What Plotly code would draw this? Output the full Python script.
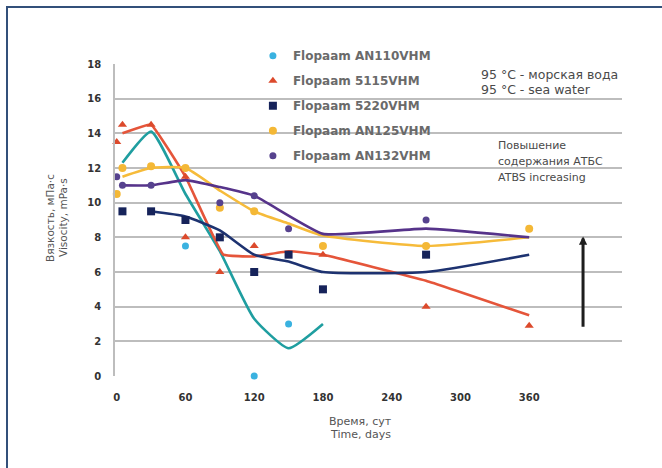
import plotly.graph_objects as go

# ---- data ----
names = ["Flopaam AN110VHM", "Flopaam 5115VHM", "Flopaam 5220VHM",
         "Flopaam AN125VHM", "Flopaam AN132VHM"]

an110_pts_x = [60, 120, 150]
an110_pts_y = [7.5, 0.0, 3.0]
an110_line_x = [5, 30, 60, 90, 120, 150, 180]
an110_line_y = [12.3, 14.1, 10.5, 7.2, 3.3, 1.6, 3.0]

s5115_pts_x = [0, 5, 30, 60, 60, 90, 120, 180, 270, 360]
s5115_pts_y = [13.5, 14.5, 14.5, 11.5, 8.0, 6.0, 7.5, 7.0, 4.0, 2.9]
s5115_line_x = [5, 30, 60, 93, 120, 150, 180, 270, 360]
s5115_line_y = [14.0, 14.5, 11.5, 7.0, 6.9, 7.2, 7.0, 5.5, 3.5]

s5220_pts_x = [5, 30, 60, 90, 120, 150, 180, 270]
s5220_pts_y = [9.5, 9.5, 9.0, 8.0, 6.0, 7.0, 5.0, 7.0]
s5220_line_x = [30, 60, 90, 120, 150, 180, 270, 360]
s5220_line_y = [9.5, 9.2, 8.4, 7.0, 6.6, 6.0, 6.0, 7.0]

an125_pts_x = [0, 5, 30, 60, 90, 120, 180, 270, 360]
an125_pts_y = [10.5, 12.0, 12.1, 12.0, 9.7, 9.5, 7.5, 7.5, 8.5]
an125_line_x = [5, 30, 60, 90, 120, 150, 180, 270, 360]
an125_line_y = [11.5, 12.0, 12.0, 10.7, 9.5, 8.8, 8.1, 7.5, 8.0]

an132_pts_x = [0, 5, 30, 90, 120, 150, 270]
an132_pts_y = [11.5, 11.0, 11.0, 10.0, 10.4, 8.5, 9.0]
an132_line_x = [5, 30, 60, 90, 120, 180, 270, 360]
an132_line_y = [11.0, 11.0, 11.3, 10.9, 10.4, 8.2, 8.5, 8.0]

x_ticks = [0, 60, 120, 180, 240, 300, 360]
y_ticks = [0, 2, 4, 6, 8, 10, 12, 14, 16, 18]

arrow_x = 407
arrow_from = 2.75
arrow_to = 8.05

# ---- styles ----
series = [
    (an110_pts_x, an110_pts_y, an110_line_x, an110_line_y, "#3ab2e0", "#1f9ea0", "circle", 7, 0.5),
    (s5115_pts_x, s5115_pts_y, s5115_line_x, s5115_line_y, "#dc4a2c", "#e5553a", "triangle-up", 8, 0.25),
    (s5220_pts_x, s5220_pts_y, s5220_line_x, s5220_line_y, "#16235a", "#1d3270", "square", 8, 0.5),
    (an125_pts_x, an125_pts_y, an125_line_x, an125_line_y, "#f4b836", "#f6bb3a", "circle", 8, 0.5),
    (an132_pts_x, an132_pts_y, an132_line_x, an132_line_y, "#56428e", "#56338a", "circle", 7, 0.4),
]

fig = go.Figure()
for i, (px, py, lx, ly, mc, lc, sym, ms, sm) in enumerate(series):
    fig.add_trace(go.Scatter(x=lx, y=ly, mode="lines",
                             line=dict(color=lc, width=2.6, shape="spline", smoothing=sm),
                             showlegend=False, hoverinfo="skip", cliponaxis=False))
for i, (px, py, lx, ly, mc, lc, sym, ms, sm) in enumerate(series):
    fig.add_trace(go.Scatter(x=px, y=py, mode="markers", name=names[i],
                             legendgroup=names[i],
                             marker=dict(color=mc, symbol=sym, size=ms),
                             cliponaxis=False))

txt = "#4a4a4a"
fig.update_layout(
    width=662, height=468,
    margin=dict(l=115, r=40, t=64, b=92),
    paper_bgcolor="white", plot_bgcolor="white",
    font=dict(family="DejaVu Sans", size=10, color=txt),
    showlegend=True,
    legend=dict(x=0.272, y=1.073, xanchor="left", yanchor="top",
                bgcolor="rgba(0,0,0,0)", tracegroupgap=6,
                font=dict(family="DejaVu Sans", size=12, color="#6a6a6a", weight="bold")),
    xaxis=dict(range=[-1.5, 441], tickvals=x_ticks, showgrid=False,
               zeroline=False, showline=False, ticks="",
               tickfont=dict(family="DejaVu Sans", size=10, color="#333333", weight="bold"),
               ticklabelstandoff=14),
    yaxis=dict(range=[0, 18], tickvals=y_ticks, showgrid=True,
               gridcolor="#bdbdbd", gridwidth=1.5, zeroline=False,
               showline=True, linecolor="#bdbdbd", linewidth=1.5, ticks="",
               tickfont=dict(family="DejaVu Sans", size=10, color="#333333", weight="bold"),
               ticklabelstandoff=10),
)

# frame
fig.add_shape(type="rect", xref="paper", yref="paper",
              x0=(7 - 115) / 507, x1=(720 - 115) / 507,
              y0=(376 - 520) / 312, y1=(376 - 7) / 312,
              line=dict(color="#33507a", width=2), fillcolor="rgba(0,0,0,0)", layer="below")

# arrow
fig.add_annotation(x=arrow_x, y=arrow_to, ax=arrow_x, ay=arrow_from, xref="x", yref="y",
                   axref="x", ayref="y", text="", showarrow=True, arrowhead=2,
                   arrowsize=0.55, arrowwidth=3, arrowcolor="#1e1e1e")

def ann(text, xpx, ypx, size=10, angle=0, xanchor="left", color=txt):
    fig.add_annotation(text=text, xref="paper", yref="paper",
                       x=(xpx - 115) / 507, y=(376 - ypx) / 312,
                       xanchor=xanchor, yanchor="middle", showarrow=False,
                       textangle=angle, font=dict(size=size, color=color))

ann("95 °C - морская вода", 479, 74, size=12.5)
ann("95 °C - sea water", 479, 89, size=12.5)
ann("Повышение", 496, 145, size=11)
ann("содержания АТБС", 496, 161, size=11)
ann("ATBS increasing", 496, 177, size=11)
ann("Время, сут", 360, 421, size=11, xanchor="center", color="#555555")
ann("Time, days", 360, 434, size=11, xanchor="center", color="#555555")
ann("Вязкость, мПа·с", 50, 218, size=10.5, angle=-90, xanchor="center", color="#555555")
ann("Visocity, mPa·s", 63, 218, size=10.5, angle=-90, xanchor="center", color="#555555")

fig.write_html("out.html", config={"displayModeBar": False},
               post_script="document.body.style.margin='0';document.body.style.overflow='hidden';")
